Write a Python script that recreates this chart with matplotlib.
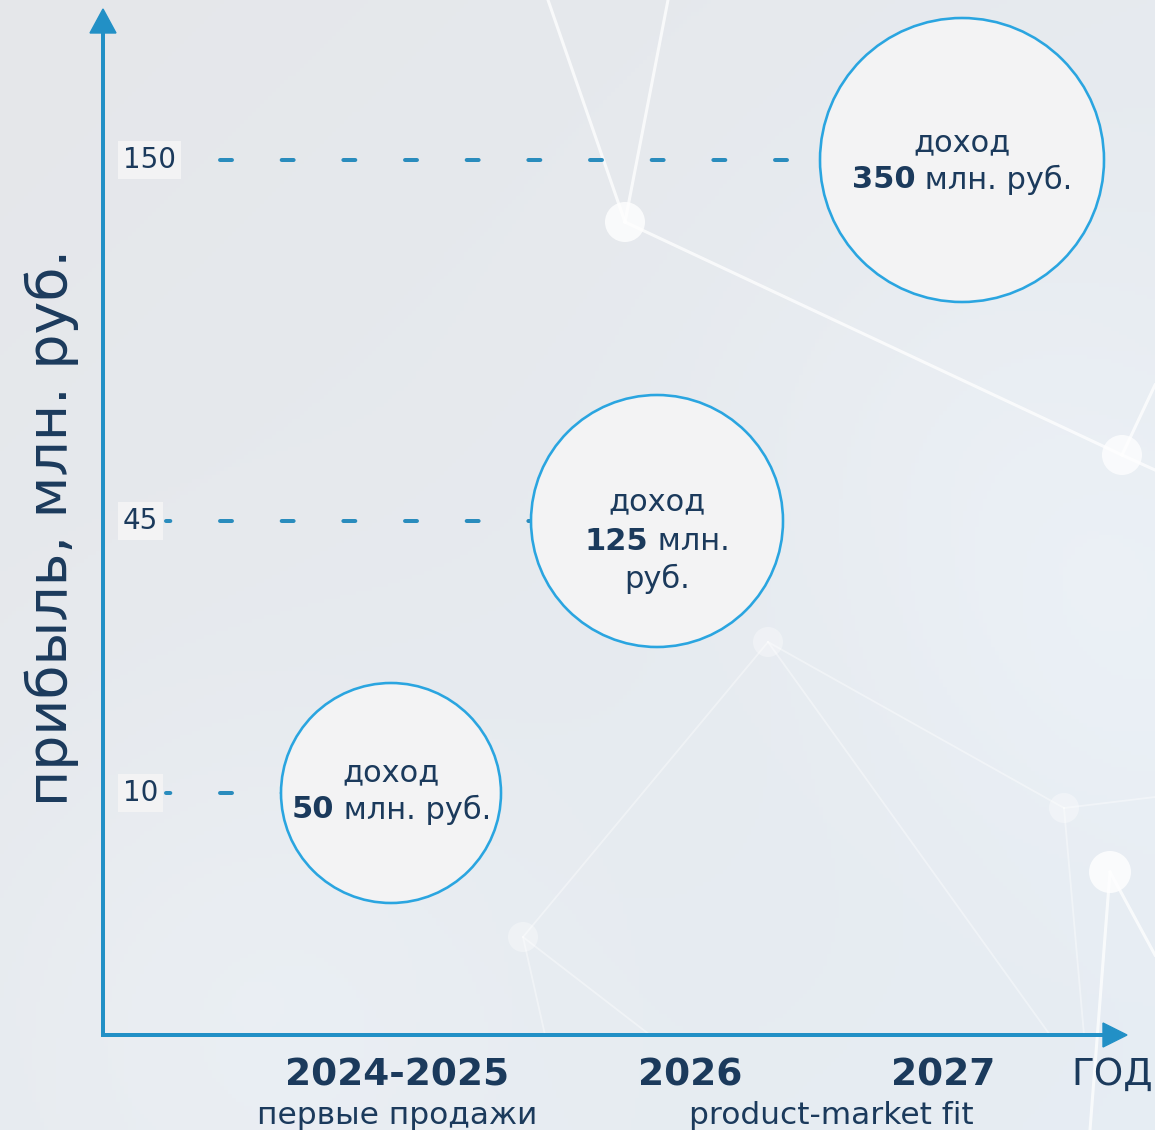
#import
import numpy as np
import matplotlib
matplotlib.use("Agg")
import matplotlib.pyplot as plt
from matplotlib.patches import Polygon, Circle

#-------------------------------------------------------------------------------

#data
years = ["2024-2025", "2026", "2027"]
stages = ["первые продажи", "product-market fit", ""]
profit = [10, 45, 150]
revenue = ["50", "125", "350"]
unit_lines = [[" млн. руб."], [" млн.", "руб."], [" млн. руб."]]
revenue_word = "доход"
y_ticks = [10, 45, 150]
y_label = "прибыль, млн. руб."
x_label = "ГОД"

#-------------------------------------------------------------------------------

#layout (pixels)
W, H = 1155, 1130
DPI = 100
PT = 72.0 / DPI
circle_x = [391, 657, 962]
circle_r = [110, 126, 142]
label_x = [397, 690, 943]
stage_x = [397, 831]
text_dy = [[-20, 17], [-19, 20, 58], [-17, 20]]
axis_x = 103
axis_y = 1035

navy = "#1b3a5c"
blue = "#2290c6"
ring = "#2aa5e0"
dash_col = "#2a8cbd"
fill = "#f3f3f4"

plt.rcParams['font.family'] = ['DejaVu Sans']
plt.rcParams['lines.scale_dashes'] = False

# value -> height from bottom in pixels (piecewise, the chart is not to scale)
kv = [-100, 0, 10, 45, 150, 300]
kh = [0, H - 1035, H - 793, H - 521, H - 160, H]

def fwd(v):
    return np.interp(v, kv, kh)

def inv(h):
    return np.interp(h, kh, kv)

#-------------------------------------------------------------------------------

fig = plt.figure(figsize=(W / DPI, H / DPI), dpi=DPI)

# background layer in pixel coordinates
bg = fig.add_axes([0, 0, 1, 1])
bg.set_xlim(0, W)
bg.set_ylim(H, 0)
bg.axis("off")

yy, xx = np.mgrid[0:H:4, 0:W:4]
t = (xx / W * 0.5 + yy / H * 0.5)
c0 = np.array([0.900, 0.906, 0.918])
c1 = np.array([0.905, 0.930, 0.955])
img = c0[None, None, :] * (1 - t[..., None]) + c1[None, None, :] * t[..., None]
for gx, gy, gr, ga in [(1000, 430, 200, 0.012), (250, 1000, 200, 0.015), (1150, 650, 160, 0.012)]:
    g = np.exp(-((xx - gx) ** 2 + (yy - gy) ** 2) / (2 * gr ** 2))
    img = img + ga * g[..., None]
bg.imshow(np.clip(img, 0, 1), extent=(0, W, H, 0), aspect="auto", zorder=0)

# network decoration
bright = [((548, 0), (625, 222)), ((668, 0), (625, 222)), ((625, 222), (1122, 455)),
          ((1122, 455), (1155, 385)), ((1122, 455), (1155, 470)),
          ((1110, 872), (1090, 1130)), ((1110, 872), (1155, 955))]
faint = [((768, 642), (1064, 808)), ((768, 642), (523, 937)), ((768, 642), (1050, 1035)),
         ((1064, 808), (1155, 797)), ((1064, 808), (1084, 1035)),
         ((523, 937), (545, 1035)), ((523, 937), (650, 1035))]
for (a, b) in bright:
    bg.plot([a[0], b[0]], [a[1], b[1]], color="white", lw=2.2, alpha=0.75, zorder=1)
for (a, b) in faint:
    bg.plot([a[0], b[0]], [a[1], b[1]], color="white", lw=1.3, alpha=0.4, zorder=1)
for (nx, ny, nr, na) in [(625, 222, 20, 0.8), (1122, 455, 20, 0.75), (1110, 872, 21, 0.8),
                         (768, 642, 15, 0.35), (1064, 808, 15, 0.35), (523, 937, 15, 0.35)]:
    bg.add_patch(Circle((nx, ny), nr, color="white", alpha=na, lw=0, zorder=1))

# axes with arrows
bg.plot([axis_x, axis_x], [axis_y + 2, 30], color=blue, lw=4 * PT, zorder=2,
        solid_capstyle="butt")
bg.plot([axis_x - 2, 1105], [axis_y, axis_y], color=blue, lw=4 * PT, zorder=2,
        solid_capstyle="butt")
bg.add_patch(Polygon([(axis_x, 9), (axis_x - 13, 33), (axis_x + 13, 33)], color=blue, zorder=2))
bg.add_patch(Polygon([(1127, axis_y), (1103, axis_y - 12), (1103, axis_y + 12)], color=blue, zorder=2))

#-------------------------------------------------------------------------------

# data layer
ax = fig.add_axes([0, 0, 1, 1], facecolor="none")
ax.set_yscale("function", functions=(fwd, inv))
ax.set_xlim(0, W)
ax.set_ylim(-100, 300)
ax.axis("off")

# dashed guides
for i, v in enumerate(profit):
    ax.plot([166, circle_x[i]], [v, v], color=dash_col, lw=4 * PT,
            linestyle=(5.5, (8.6, 35.8)), dash_capstyle="round", zorder=3)

# tick labels
for v in y_ticks:
    ax.text(123, v, str(v), ha="left", va="center", fontsize=20, color=navy, zorder=4,
            bbox=dict(boxstyle="square,pad=0.18", fc=fill, ec="none"))

# circles
sizes = [(2 * r * PT) ** 2 for r in circle_r]
ax.scatter(circle_x, profit, s=sizes, facecolor=fill, edgecolor=ring, linewidth=2.6 * PT, zorder=5)

# circle texts
rich = []
for i, v in enumerate(profit):
    dys = text_dy[i]
    ax.annotate(revenue_word, xy=(circle_x[i], v), xytext=(0, -dys[0] * PT),
                textcoords="offset points", ha="center", va="center",
                fontsize=22, color=navy, zorder=6)
    b = ax.annotate(revenue[i], xy=(circle_x[i], v), xytext=(0, -dys[1] * PT),
                    textcoords="offset points", ha="left", va="center",
                    fontsize=22, fontweight="bold", color=navy, zorder=6)
    n = ax.annotate(unit_lines[i][0], xy=(circle_x[i], v), xytext=(0, -dys[1] * PT),
                    textcoords="offset points", ha="left", va="center",
                    fontsize=22, color=navy, zorder=6)
    rich.append((b, n, dys[1]))
    for k, extra in enumerate(unit_lines[i][1:]):
        ax.annotate(extra, xy=(circle_x[i], v), xytext=(0, -dys[2 + k] * PT),
                    textcoords="offset points", ha="center", va="center",
                    fontsize=22, color=navy, zorder=6)

# center the mixed bold / regular lines
fig.canvas.draw()
r = fig.canvas.get_renderer()
for b, n, dy in rich:
    wb = b.get_window_extent(r).width
    wn = n.get_window_extent(r).width
    x0 = -(wb + wn) / 2
    b.xyann = (x0 * PT, -dy * PT)
    n.xyann = ((x0 + wb) * PT, -dy * PT)

# x categories
for i, y in enumerate(years):
    fig.text(label_x[i] / W, 1 - 1085 / H, y, ha="center", va="baseline",
             fontsize=27, fontweight="bold", color=navy)
for i, s in enumerate(stages):
    if s:
        fig.text(stage_x[i] / W, 1 - 1124 / H, s, ha="center", va="baseline",
                 fontsize=22.5, color=navy)
fig.text(1112 / W, 1 - 1085 / H, x_label, ha="center", va="baseline",
         fontsize=27, color=navy)

# y label
fig.text(52 / W, 1 - 527 / H, y_label, rotation=90, ha="center", va="center",
         fontsize=40, color=navy)

fig.savefig("out.png", dpi=DPI)
